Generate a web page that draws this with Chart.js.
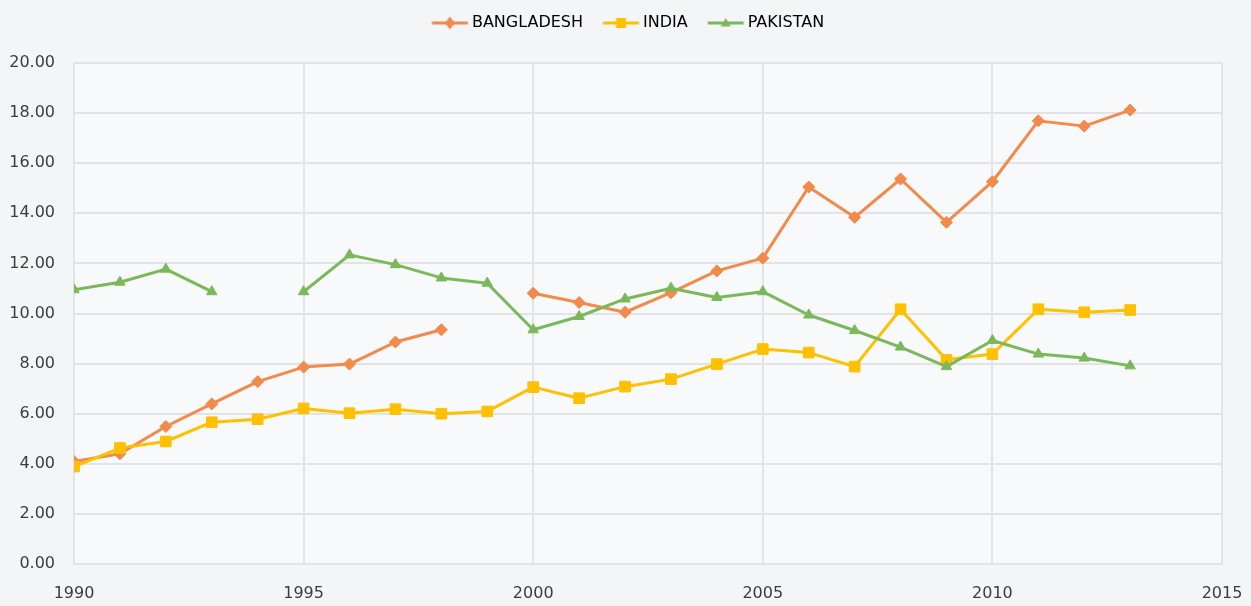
<!DOCTYPE html>
<html>
<head>
<meta charset="utf-8">
<script src="https://cdn.jsdelivr.net/npm/chart.js@4/dist/chart.umd.min.js"></script>
<style>
  html, body { margin: 0; padding: 0; background: #f3f5f7; }
  #wrap { width: 1251px; height: 606px; }
</style>
</head>
<body>
<div id="wrap"><canvas id="c" width="1251" height="606"></canvas></div>
<script>
const years = [1990, 1991, 1992, 1993, 1994, 1995, 1996, 1997, 1998, 1999, 2000, 2001,
               2002, 2003, 2004, 2005, 2006, 2007, 2008, 2009, 2010, 2011, 2012, 2013];
const bangladesh = [4.09, 4.40, 5.49, 6.39, 7.28, 7.86, 7.98, 8.86, 9.35, null, 10.81, 10.44,
                    10.05, 10.83, 11.70, 12.21, 15.05, 13.84, 15.37, 13.64, 15.26, 17.69, 17.48, 18.12];
const india = [3.89, 4.63, 4.89, 5.66, 5.78, 6.21, 6.02, 6.18, 6.00, 6.09, 7.06, 6.62,
               7.08, 7.38, 7.98, 8.58, 8.44, 7.88, 10.17, 8.15, 8.38, 10.17, 10.05, 10.14];
const pakistan = [10.95, 11.25, 11.77, 10.87, null, 10.87, 12.34, 11.95, 11.42, 11.21, 9.35, 9.88,
                  10.58, 11.01, 10.64, 10.87, 9.94, 9.32, 8.66, 7.88, 8.92, 8.38, 8.22, 7.91];
const seriesNames = ['BANGLADESH', 'INDIA', 'PAKISTAN'];
const xTicks = [1990, 1995, 2000, 2005, 2010, 2015];

const COLORS = ['#F38A4B', '#FFC000', '#7AB85A'];
const STYLES = ['rectRot', 'rect', 'triangle'];
const RADII = [6, 7.5, 6];

Chart.defaults.font.family = "'DejaVu Sans', sans-serif";
Chart.defaults.font.size = 16;
Chart.defaults.color = '#3c3c3c';

function legendIcon(color, style) {
  const c = document.createElement('canvas');
  c.width = 80; c.height = 20;
  const g = c.getContext('2d');
  g.strokeStyle = color; g.fillStyle = color; g.lineWidth = 3;
  g.beginPath(); g.moveTo(26.5, 10); g.lineTo(62.5, 10); g.stroke();
  const cx = 44.5, cy = 10;
  g.beginPath();
  if (style === 'rectRot') {
    g.moveTo(cx, cy - 6.5); g.lineTo(cx + 5, cy); g.lineTo(cx, cy + 6.5); g.lineTo(cx - 5, cy);
  } else if (style === 'rect') {
    g.rect(cx - 5, cy - 5, 10, 10);
  } else {
    g.moveTo(cx, cy - 5); g.lineTo(cx + 5, cy + 3.5); g.lineTo(cx - 5, cy + 3.5);
  }
  g.closePath(); g.fill();
  return c;
}

const allSeries = [bangladesh, india, pakistan];
const datasets = allSeries.map((vals, i) => ({
  label: seriesNames[i],
  data: years.map((yr, j) => ({ x: yr, y: vals[j] })),
  borderColor: COLORS[i],
  backgroundColor: COLORS[i],
  borderWidth: 3,
  borderJoinStyle: 'round',
  borderCapStyle: 'round',
  pointStyle: STYLES[i],
  pointRadius: RADII[i],
  pointBorderWidth: 1,
  pointBackgroundColor: COLORS[i],
  pointBorderColor: COLORS[i],
  spanGaps: false,
  tension: 0,
  order: 3 - i
}));

const bgPlugin = {
  id: 'bg',
  beforeDraw(chart) {
    const ctx = chart.ctx;
    ctx.save();
    ctx.fillStyle = '#f3f5f7';
    ctx.fillRect(0, 0, chart.width, chart.height);
    const a = chart.chartArea;
    ctx.fillStyle = '#f8f9fa';
    ctx.fillRect(a.left, a.top, a.right - a.left, a.bottom - a.top);
    ctx.restore();
  }
};
const legendHeight = {
  id: 'legendHeight',
  beforeInit(chart) {
    const fit = chart.legend.fit;
    chart.legend.fit = function () { fit.bind(chart.legend)(); this.height = 63; };
  }
};

new Chart(document.getElementById('c'), {
  type: 'line',
  data: { datasets },
  plugins: [bgPlugin, legendHeight],
  options: {
    responsive: false,
    animation: false,
    layout: { padding: 0 },
    plugins: {
      tooltip: { enabled: false },
      legend: {
        position: 'top',
        labels: {
          usePointStyle: true,
          pointStyleWidth: 37,
          padding: 15,
          color: '#3c3c3c',
          font: { size: 16 },
          generateLabels(chart) {
            return chart.data.datasets.map((ds, i) => ({
              text: ds.label,
              pointStyle: legendIcon(COLORS[i], STYLES[i]),
              fillStyle: COLORS[i],
              strokeStyle: COLORS[i],
              lineWidth: 0,
              hidden: false,
              datasetIndex: i
            }));
          }
        }
      }
    },
    scales: {
      x: {
        type: 'linear',
        min: xTicks[0],
        max: xTicks[xTicks.length - 1],
        afterBuildTicks(s) { s.ticks = xTicks.map(v => ({ value: v })); },
        ticks: { padding: 2, maxRotation: 0, callback: v => String(v), color: '#3c3c3c' },
        grid: { color: '#e2e3e5', lineWidth: 2, drawTicks: true, tickLength: 18, tickColor: 'rgba(0,0,0,0)' },
        border: { color: '#e2e3e5', width: 2 },
        afterFit(s) { s.height = 42; }
      },
      y: {
        min: 0, max: 20,
        ticks: { stepSize: 2, padding: 19, callback: v => v.toFixed(2), color: '#3c3c3c' },
        grid: { color: '#e2e3e5', lineWidth: 2, drawTicks: false },
        border: { color: '#e2e3e5', width: 2 },
        afterFit(s) { s.width = 74; }
      },
      yr: {
        position: 'right',
        display: true,
        ticks: { display: false },
        grid: { display: false, drawTicks: false },
        border: { display: false },
        afterFit(s) { s.width = 29; }
      }
    }
  }
});
</script>
</body>
</html>
